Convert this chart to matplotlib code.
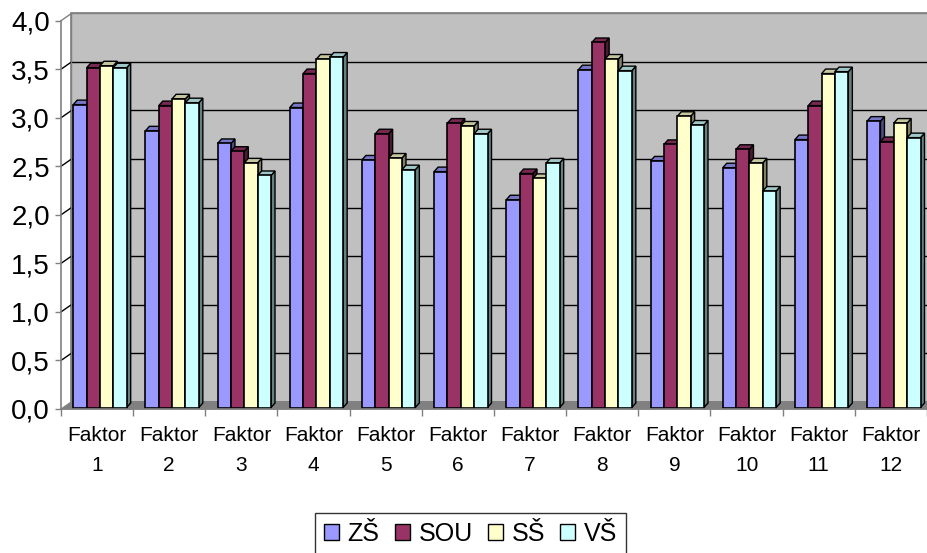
import matplotlib
matplotlib.use("Agg")
import matplotlib.pyplot as plt
from matplotlib.patches import Polygon, Patch
from matplotlib.ticker import FixedLocator, FuncFormatter
import numpy as np

plt.rcParams['font.family'] = ['Liberation Sans', 'DejaVu Sans']

categories = [f"Faktor\n{i}" for i in range(1, 13)]
series_names = ["ZŠ", "SOU", "SŠ", "VŠ"]
zs  = [3.12, 2.85, 2.72, 3.09, 2.55, 2.43, 2.14, 3.48, 2.54, 2.47, 2.76, 2.95]
sou = [3.50, 3.11, 2.64, 3.44, 2.82, 2.93, 2.41, 3.76, 2.71, 2.66, 3.11, 2.74]
ss  = [3.52, 3.18, 2.52, 3.59, 2.57, 2.90, 2.36, 3.59, 3.00, 2.52, 3.44, 2.93]
vs  = [3.50, 3.14, 2.39, 3.61, 2.45, 2.82, 2.52, 3.47, 2.91, 2.23, 3.46, 2.78]
series = [zs, sou, ss, vs]
colors = ["#9999FF", "#993366", "#FFFFCC", "#CCFFFF"]
yticks = [0, 0.5, 1.0, 1.5, 2.0, 2.5, 3.0, 3.5, 4.0]

W, H = 928, 553
fig = plt.figure(figsize=(W/100, H/100), dpi=100)
ax_l, ax_r, ax_b, ax_t = 61, 927, 409, 20.7
ax = fig.add_axes([ax_l/W, 1-ax_b/H, (ax_r-ax_l)/W, (ax_b-ax_t)/H])
ncat = len(categories)
ax.set_xlim(0, ncat)
ax.set_ylim(0, 4)
ax.patch.set_visible(False)

xpx = ncat/(ax_r-ax_l)
ypx = 4/(ax_b-ax_t)

def shade(c, f):
    rgb = np.array(matplotlib.colors.to_rgb(c))
    return tuple(rgb*f)

# walls
dxw, dyw = 10.5*xpx, 7.3*ypx
gray = "#808080"
ax.add_patch(Polygon([(dxw, dyw), (ncat+dxw, dyw), (ncat+dxw, 4+dyw), (dxw, 4+dyw)],
                     closed=True, facecolor="#C0C0C0", edgecolor=gray, lw=1.2,
                     zorder=0.5, clip_on=False))
ax.add_patch(Polygon([(0, 0), (ncat, 0), (ncat+dxw, dyw), (dxw, dyw)], closed=True,
                     facecolor=gray, edgecolor=gray, lw=0.8, zorder=0.7, clip_on=False))
for y in yticks[1:]:
    c = "black" if y < 4 else gray
    ax.plot([dxw, ncat+dxw], [y+dyw, y+dyw], color=c, lw=1.0, zorder=0.6, clip_on=False)
    ax.plot([0, dxw], [y, y+dyw], color=c, lw=1.0, zorder=0.6, clip_on=False)
ax.plot([dxw, dxw], [dyw, 4+dyw], color=gray, lw=1.0, zorder=0.6, clip_on=False)

# bars
bw = 0.185
off = 0.17
ddx, ddy = 4*xpx, 4.5*ypx
b0 = 1.5*ypx
n = 0
for i in range(ncat):
    for k, (vals, col) in enumerate(zip(series, colors)):
        x0 = i + off + k*bw
        h = vals[i]
        z = 2 + n*0.01
        side = Polygon([(x0+bw, b0), (x0+bw+ddx, b0+ddy), (x0+bw+ddx, b0+h+ddy), (x0+bw, b0+h)],
                       closed=True, facecolor=shade(col, 0.5), edgecolor="black", lw=1.0, zorder=z)
        top = Polygon([(x0, b0+h), (x0+ddx, b0+h+ddy), (x0+bw+ddx, b0+h+ddy), (x0+bw, b0+h)],
                      closed=True, facecolor=shade(col, 0.78), edgecolor="black", lw=1.0, zorder=z)
        ax.add_patch(side)
        ax.add_patch(top)
        ax.bar(x0, h, width=bw, bottom=b0, align='edge', color=col, edgecolor="black",
               lw=1.2, zorder=z+0.001)
        n += 1

# axes styling
for s in ["top", "right"]:
    ax.spines[s].set_visible(False)
for s in ["left", "bottom"]:
    ax.spines[s].set_color(gray)
    ax.spines[s].set_linewidth(1.2)
    ax.spines[s].set_zorder(5)

ax.yaxis.set_major_locator(FixedLocator(yticks))
ax.yaxis.set_major_formatter(FuncFormatter(lambda v, p: f"{v:.1f}".replace(".", ",")))
ax.tick_params(axis='y', length=4, width=1, color=gray, labelsize=20, pad=4)

ax.set_xticks(np.arange(ncat)+0.5)
ax.set_xticklabels(categories, fontsize=15, linespacing=1.75)
ax.set_xticks(np.arange(ncat+1), minor=True)
ax.tick_params(axis='x', which='major', length=0, pad=12)
ax.tick_params(axis='x', which='minor', length=5, width=1, color=gray)

handles = [Patch(facecolor=c, edgecolor="black", lw=1.0) for c in colors]
leg = fig.legend(handles, series_names, loc='upper center', ncol=4,
                 bbox_to_anchor=(470.5/W, 1-513/H), fontsize=18, frameon=True,
                 fancybox=False, edgecolor="black", handlelength=0.6, handleheight=0.6,
                 handletextpad=0.35, columnspacing=0.6, borderpad=0.35, borderaxespad=0)
leg.get_frame().set_linewidth(1.0)

fig.savefig("out.png", dpi=100)
